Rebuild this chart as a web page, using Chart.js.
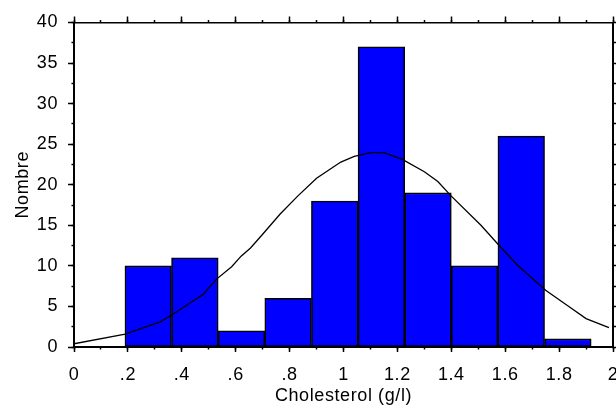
<!DOCTYPE html>
<html>
<head>
<meta charset="utf-8">
<script src="https://cdn.jsdelivr.net/npm/chart.js@4"></script>
<style>
  html, body { margin: 0; padding: 0; background: #fff; }
  #c { display: block; }
</style>
</head>
<body>
<canvas id="c" width="616" height="407"></canvas>
<script>
// Histogram of cholesterol values (g/l) with a fitted density curve
const binEdges = [0.189, 0.362, 0.535, 0.708, 0.881, 1.054, 1.227, 1.400, 1.573, 1.746, 1.919];
const counts   = [10, 11, 2, 6, 18, 37, 19, 10, 26, 1];

const curveX = [0, 0.19, 0.32, 0.37, 0.48, 0.53, 0.585, 0.62, 0.655, 0.70, 0.765, 0.83, 0.90, 0.99, 1.04, 1.10, 1.15, 1.22, 1.30, 1.35, 1.40, 1.51, 1.575, 1.645, 1.75, 1.84, 1.90, 1.985];
const curveY = [0.4, 1.6, 3.1, 4.1, 6.5, 8.4, 9.9, 11.2, 12.2, 13.9, 16.4, 18.6, 20.8, 22.8, 23.5, 23.95, 23.95, 23.1, 21.6, 20.4, 18.6, 15.0, 12.6, 10.1, 7.0, 4.9, 3.5, 2.4];

const xTickLabels = ['0', '.2', '.4', '.6', '.8', '1', '1.2', '1.4', '1.6', '1.8', '2'];
const yTickLabels = ['0', '5', '10', '15', '20', '25', '30', '35', '40'];

const FONT = "'Liberation Sans', Arial, sans-serif";
const FONT_SIZE = 18;
const INK = '#000';

// Bars are drawn at the middle of each bin
const barData = counts.map((c, i) => ({ x: (binEdges[i] + binEdges[i + 1]) / 2, y: c }));
const curveData = curveX.map((x, i) => ({ x: x, y: curveY[i] }));

const letterSpacing = {
  id: 'letterSpacing',
  beforeUpdate(chart) { chart.ctx.letterSpacing = '0.6px'; },
  beforeDraw(chart) { chart.ctx.letterSpacing = '0.6px'; }
};

// Fixed box sizes; the edge labels are allowed to run past the frame
function fixSize(s, size) {
  if (s.isHorizontal()) s.height = size; else s.width = size;
  s.paddingLeft = 0; s.paddingRight = 0; s.paddingTop = 0; s.paddingBottom = 0;
}

function tickAxis(position, step, len, weight, size, border) {
  return {
    type: 'linear',
    position: position,
    min: 0,
    max: (position === 'top' || position === 'bottom') ? 2 : 40,
    offset: false,
    weight: weight,
    ticks: { display: false, stepSize: step, autoSkip: false },
    grid: { drawOnChartArea: false, offset: false, tickLength: len, tickColor: INK, tickWidth: 1.5 },
    border: border ? { display: true, color: INK, width: border } : { display: false },
    afterFit(s) { fixSize(s, size); }
  };
}

new Chart(document.getElementById('c'), {
  type: 'bar',
  data: {
    datasets: [
      {
        type: 'line',
        data: curveData,
        borderColor: INK,
        borderWidth: 1.3,
        pointRadius: 0,
        tension: 0,
        fill: false,
        order: 0,
        xAxisID: 'x',
        yAxisID: 'y'
      },
      {
        type: 'bar',
        data: barData,
        backgroundColor: '#0000ff',
        borderColor: INK,
        borderWidth: 1.6,
        borderSkipped: false,
        barPercentage: 1,
        categoryPercentage: 1,
        order: 1,
        xAxisID: 'x',
        yAxisID: 'y'
      }
    ]
  },
  options: {
    responsive: false,
    animation: false,
    devicePixelRatio: 1,
    layout: { padding: 0 },
    plugins: { legend: { display: false }, tooltip: { enabled: false } },
    scales: {
      x: {
        type: 'linear',
        position: 'bottom',
        min: 0,
        max: 2,
        offset: false,
        weight: 1,
        ticks: {
          stepSize: 0.2,
          autoSkip: false,
          maxRotation: 0,
          padding: 12,
          color: INK,
          font: { family: FONT, size: FONT_SIZE },
          callback: (v, i) => xTickLabels[i]
        },
        grid: { drawOnChartArea: false, offset: false, tickLength: 5, tickColor: INK, tickWidth: 1.5 },
        border: { display: true, color: INK, width: 2 },
        title: {
          display: true,
          text: 'Cholesterol (g/l)',
          color: INK,
          font: { family: FONT, size: FONT_SIZE },
          padding: { top: 0, bottom: 0 }
        },
        afterFit(s) { fixSize(s, 60); }
      },
      xMinor: tickAxis('bottom', 0.1, 2.5, 0, 0, 0),
      xTop: tickAxis('top', 0.2, 6, 1, 22.5, 1.5),
      xTopMinor: tickAxis('top', 0.1, 2.5, 0, 0, 0),
      y: {
        type: 'linear',
        position: 'left',
        min: 0,
        max: 40,
        weight: 1,
        ticks: {
          stepSize: 5,
          autoSkip: false,
          padding: 10,
          color: INK,
          font: { family: FONT, size: FONT_SIZE },
          callback: (v, i) => yTickLabels[i]
        },
        grid: { drawOnChartArea: false, tickLength: 6, tickColor: INK, tickWidth: 1.5 },
        border: { display: true, color: INK, width: 2 },
        title: {
          display: true,
          text: 'Nombre',
          color: INK,
          font: { family: FONT, size: FONT_SIZE },
          padding: { top: 12, bottom: 0 }
        },
        afterFit(s) { fixSize(s, 74); }
      },
      yMinor: tickAxis('left', 2.5, 2.5, 0, 0, 0),
      yRight: tickAxis('right', 2.5, 3, 0, 3, 2)
    }
  },
  plugins: [letterSpacing]
});
</script>
</body>
</html>
